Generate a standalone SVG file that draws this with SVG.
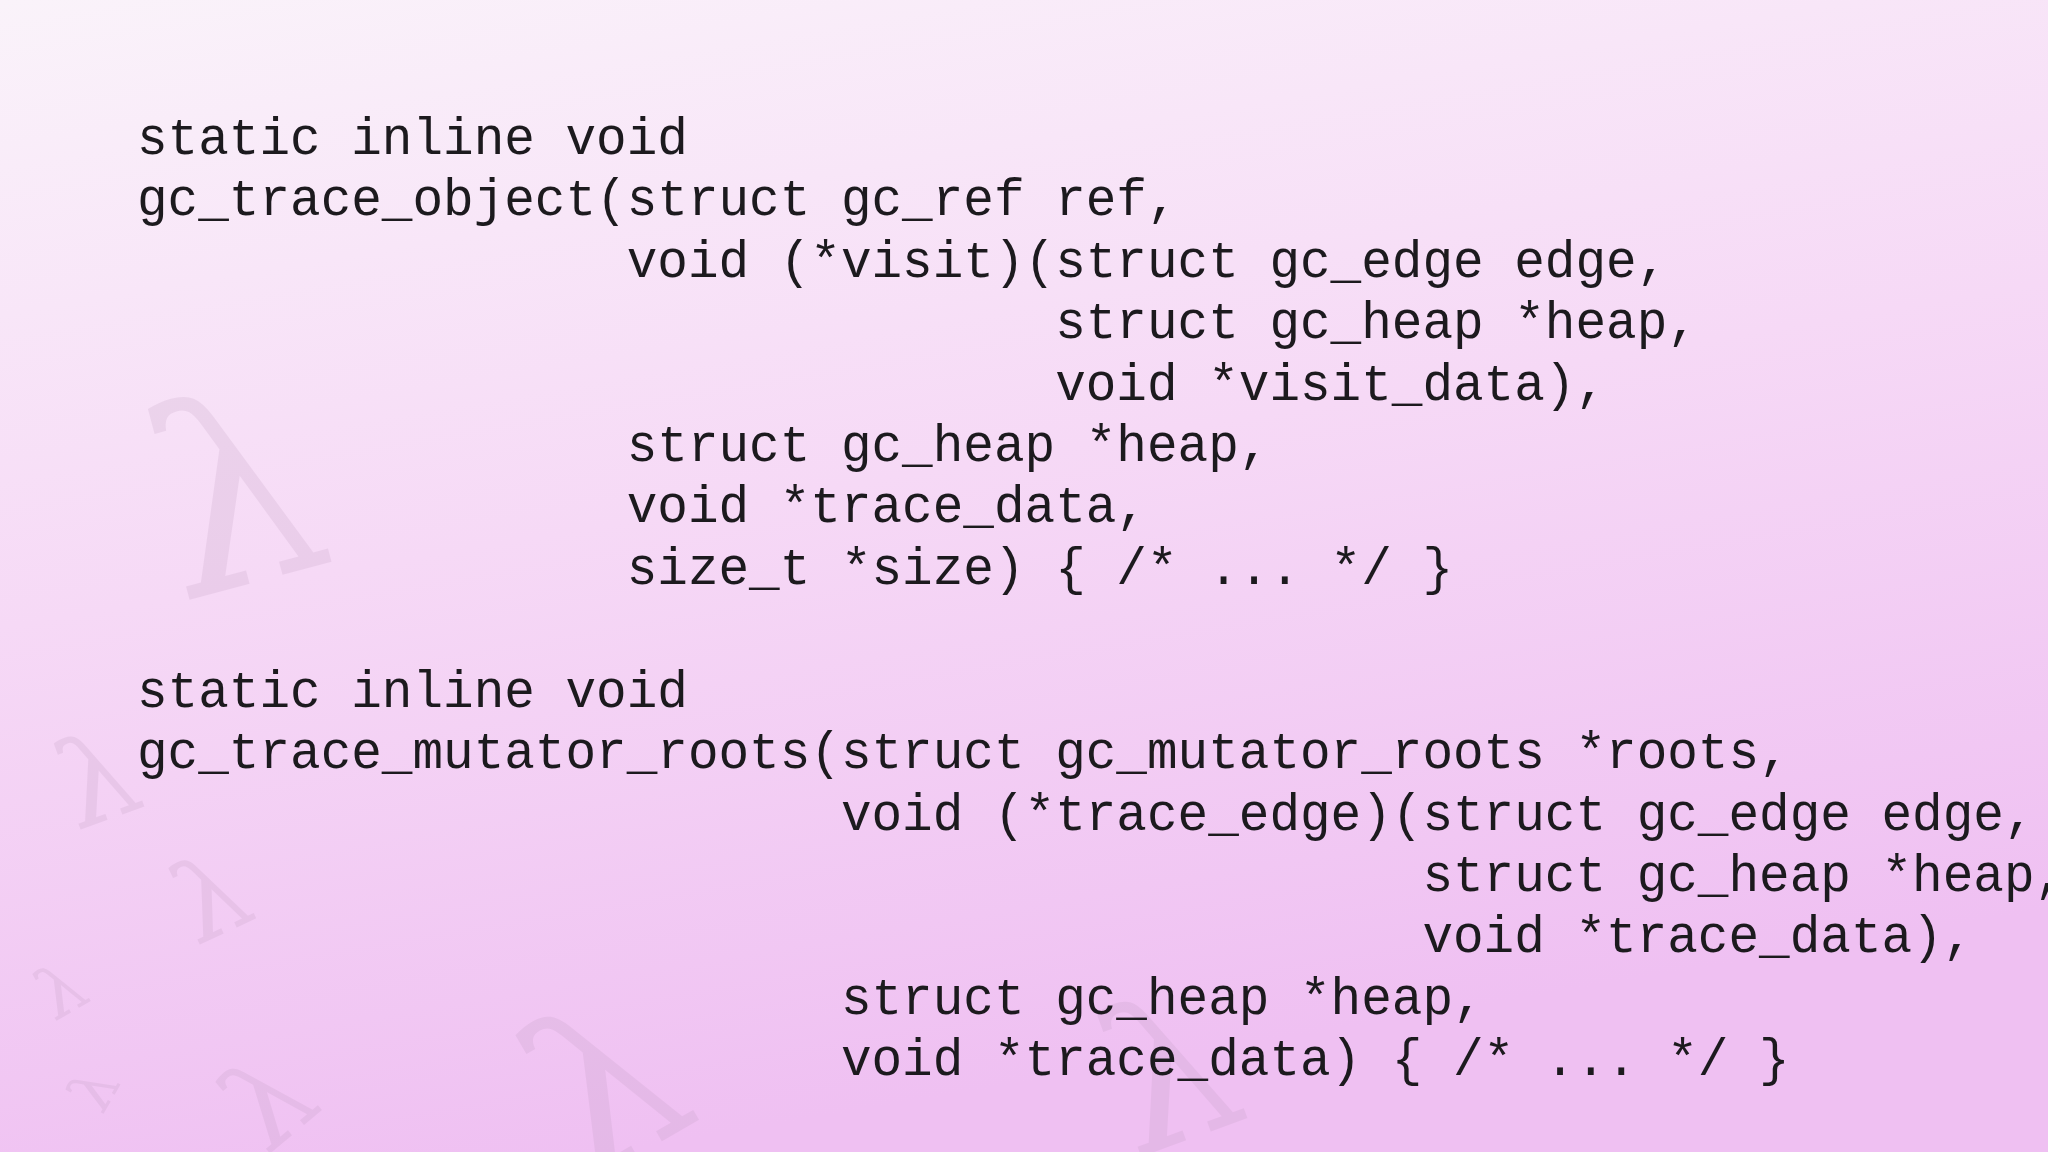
<svg xmlns="http://www.w3.org/2000/svg" width="2048" height="1152" viewBox="0 0 2048 1152">
<defs>
<linearGradient id="bg" x1="0" y1="0" x2="0.3" y2="1">
<stop offset="0" stop-color="#faf3fa"/>
<stop offset="0.5" stop-color="#f6d9f6"/>
<stop offset="1" stop-color="#efc0f2"/>
</linearGradient>
<style>
.code{font-family:"Liberation Mono","DejaVu Sans Mono",monospace;font-size:51px;fill:#1c1a1e;white-space:pre}
.lam{font-family:"DejaVu Serif",serif;fill:#b896b8;opacity:0.18}
</style>
</defs>
<rect width="2048" height="1152" fill="url(#bg)"/>
<g>
<text class="lam" x="150" y="580" font-size="260" transform="rotate(-15 250 480)">λ</text>
<text class="lam" x="60" y="820" font-size="120" transform="rotate(-20 100 780)">λ</text>
<text class="lam" x="170" y="930" font-size="110" transform="rotate(-25 220 880)">λ</text>
<text class="lam" x="220" y="1130" font-size="120" transform="rotate(-40 280 1080)">λ</text>
<text class="lam" x="520" y="1150" font-size="220" transform="rotate(-30 620 1050)">λ</text>
<text class="lam" x="40" y="1010" font-size="70" transform="rotate(-30 70 990)">λ</text>
<text class="lam" x="70" y="1100" font-size="60" transform="rotate(-60 100 1080)">λ</text>
<text class="lam" x="1100" y="1130" font-size="200" transform="rotate(-20 1200 1050)">λ</text>
</g>
<g id="code1">
<text class="code" x="137" y="154" xml:space="preserve">static inline void</text>
<text class="code" x="137" y="215" xml:space="preserve">gc_trace_object(struct gc_ref ref,</text>
<text class="code" x="137" y="277" xml:space="preserve">                void (*visit)(struct gc_edge edge,</text>
<text class="code" x="137" y="338" xml:space="preserve">                              struct gc_heap *heap,</text>
<text class="code" x="137" y="400" xml:space="preserve">                              void *visit_data),</text>
<text class="code" x="137" y="461" xml:space="preserve">                struct gc_heap *heap,</text>
<text class="code" x="137" y="522" xml:space="preserve">                void *trace_data,</text>
<text class="code" x="137" y="584" xml:space="preserve">                size_t *size) { /* ... */ }</text>
</g>
<g id="code2">
<text class="code" x="137" y="707" xml:space="preserve">static inline void</text>
<text class="code" x="137" y="768" xml:space="preserve">gc_trace_mutator_roots(struct gc_mutator_roots *roots,</text>
<text class="code" x="137" y="830" xml:space="preserve">                       void (*trace_edge)(struct gc_edge edge,</text>
<text class="code" x="137" y="891" xml:space="preserve">                                          struct gc_heap *heap,</text>
<text class="code" x="137" y="952" xml:space="preserve">                                          void *trace_data),</text>
<text class="code" x="137" y="1014" xml:space="preserve">                       struct gc_heap *heap,</text>
<text class="code" x="137" y="1075" xml:space="preserve">                       void *trace_data) { /* ... */ }</text>
</g>
<g id="connectors"/>
</svg>
